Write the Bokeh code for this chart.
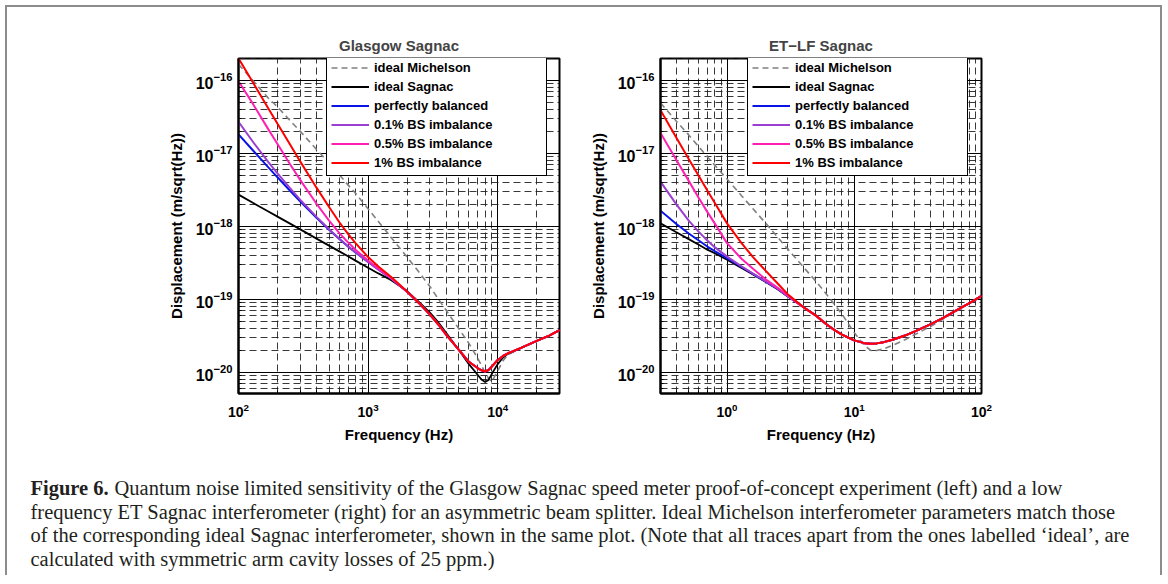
from bokeh.plotting import figure
from bokeh.models import Range1d, FixedTicker, LogTickFormatter, Legend, LegendItem
from bokeh.layouts import column, row
from bokeh.embed import file_html
from bokeh.resources import INLINE
from bokeh.core.properties import value

FONT = "Liberation Sans"
SERIF = "Liberation Serif"

# ---------------- Left panel: Glasgow Sagnac ----------------
gl_title = "Glasgow Sagnac"
gl_freq = [100, 130, 170, 200, 250, 300, 400, 500, 600, 700, 800, 1000, 1200, 1500,
           2000, 2500, 3000, 3500, 4000, 5000, 6000, 7000, 7500, 8000, 8500, 9000,
           10000, 11000, 12000, 15000, 20000, 25000, 30000]
gl_michelson = [1.66e-16, 9.8e-17, 5.7e-17, 4.34e-17, 2.8e-17, 2.0e-17, 1.13e-17, 7.4e-18,
                5.1e-18, 3.7e-18, 2.85e-18, 1.74e-18, 1.17e-18, 7.1e-19, 3.8e-19, 2.3e-19,
                1.5e-19, 1.0e-19, 7.1e-20, 4.0e-20, 2.5e-20, 1.57e-20, 1.25e-20, 1.0e-20,
                8.3e-21, 7.5e-21, 1.05e-20, 1.45e-20, 1.75e-20, 2.15e-20, 2.7e-20, 3.2e-20, 3.8e-20]
gl_sagnac = [2.72e-18, 2.09e-18, 1.6e-18, 1.36e-18, 1.09e-18, 9.1e-19, 6.8e-19, 5.45e-19,
             4.55e-19, 3.9e-19, 3.4e-19, 2.72e-19, 2.27e-19, 1.85e-19, 1.3e-19, 9.0e-20,
             6.6e-20, 4.8e-20, 3.5e-20, 2.05e-20, 1.3e-20, 9.3e-21, 8.0e-21, 7.4e-21,
             7.9e-21, 9.5e-21, 1.3e-20, 1.6e-20, 1.8e-20, 2.15e-20, 2.7e-20, 3.2e-20, 3.8e-20]
gl_balanced = [1.82e-17, 1.085e-17, 6.43e-18, 4.7e-18, 3.08e-18, 2.19e-18, 1.31e-18, 9.0e-19,
               6.7e-19, 5.3e-19, 4.4e-19, 3.25e-19, 2.57e-19, 1.95e-19, 1.27e-19, 8.7e-20,
               6.2e-20, 4.5e-20, 3.3e-20, 2.05e-20, 1.4e-20, 1.15e-20, 1.07e-20, 1.03e-20,
               1.08e-20, 1.2e-20, 1.48e-20, 1.68e-20, 1.83e-20, 2.15e-20, 2.7e-20, 3.2e-20, 3.8e-20]
gl_imb01 = [2.7e-17, 1.42e-17, 7.6e-18, 5.32e-18, 3.34e-18, 2.31e-18, 1.35e-18, 9.14e-19,
            6.77e-19, 5.33e-19, 4.42e-19, 3.26e-19, 2.57e-19, 1.95e-19, 1.27e-19, 8.7e-20,
            6.2e-20, 4.5e-20, 3.3e-20, 2.05e-20, 1.4e-20, 1.15e-20, 1.07e-20, 1.03e-20,
            1.08e-20, 1.2e-20, 1.48e-20, 1.68e-20, 1.83e-20, 2.15e-20, 2.7e-20, 3.2e-20, 3.8e-20]
gl_imb05 = [9.7e-17, 4.68e-17, 2.13e-17, 1.34e-17, 7.1e-18, 4.3e-18, 2.04e-18, 1.2e-18,
            8.1e-19, 6.05e-19, 4.8e-19, 3.4e-19, 2.63e-19, 1.97e-19, 1.27e-19, 8.7e-20,
            6.2e-20, 4.5e-20, 3.3e-20, 2.05e-20, 1.4e-20, 1.15e-20, 1.07e-20, 1.03e-20,
            1.08e-20, 1.2e-20, 1.48e-20, 1.68e-20, 1.83e-20, 2.15e-20, 2.7e-20, 3.2e-20, 3.8e-20]
gl_imb1 = [2.0e-16, 9.17e-17, 4.12e-17, 2.54e-17, 1.32e-17, 7.7e-18, 3.39e-18, 1.84e-18,
           1.14e-18, 7.9e-19, 5.9e-19, 3.8e-19, 2.82e-19, 2.04e-19, 1.28e-19, 8.7e-20,
           6.2e-20, 4.5e-20, 3.3e-20, 2.05e-20, 1.4e-20, 1.15e-20, 1.07e-20, 1.03e-20,
           1.08e-20, 1.2e-20, 1.48e-20, 1.68e-20, 1.83e-20, 2.15e-20, 2.7e-20, 3.2e-20, 3.8e-20]

# ---------------- Right panel: ET-LF Sagnac ----------------
et_title = "ET\u2212LF Sagnac"
et_freq = [0.3, 0.4, 0.5, 0.6, 0.7, 0.8, 1, 1.3, 1.6, 2, 2.5, 3, 3.5, 4, 5, 6, 7, 8, 10,
           12, 13.5, 15, 17, 20, 25, 30, 40, 50, 60, 70, 85, 100]
et_michelson = [4.9e-17, 2.76e-17, 1.78e-17, 1.23e-17, 9.0e-18, 6.9e-18, 4.45e-18, 2.63e-18,
                1.74e-18, 1.12e-18, 7.1e-19, 4.9e-19, 3.6e-19, 2.75e-19, 1.77e-19, 1.2e-19,
                8.5e-20, 6.3e-20, 3.5e-20, 2.35e-20, 2.0e-20, 2.0e-20, 2.1e-20, 2.35e-20,
                2.8e-20, 3.3e-20, 4.3e-20, 5.4e-20, 6.5e-20, 7.7e-20, 9.3e-20, 1.11e-19]
et_sagnac = [1.1e-18, 8.3e-19, 6.7e-19, 5.6e-19, 4.8e-19, 4.3e-19, 3.5e-19, 2.7e-19, 2.2e-19,
             1.75e-19, 1.38e-19, 1.1e-19, 9.2e-20, 7.8e-20, 6.0e-20, 4.6e-20, 3.8e-20, 3.3e-20,
             2.75e-20, 2.52e-20, 2.48e-20, 2.5e-20, 2.6e-20, 2.8e-20, 3.2e-20, 3.65e-20,
             4.6e-20, 5.6e-20, 6.7e-20, 7.8e-20, 9.4e-20, 1.12e-19]
et_balanced = [1.64e-18, 1.08e-18, 8.0e-19, 6.4e-19, 5.3e-19, 4.6e-19, 3.67e-19, 2.78e-19,
               2.24e-19, 1.77e-19, 1.39e-19, 1.11e-19, 9.2e-20, 7.8e-20, 6.0e-20, 4.6e-20,
               3.8e-20, 3.3e-20, 2.75e-20, 2.52e-20, 2.48e-20, 2.5e-20, 2.6e-20, 2.8e-20,
               3.2e-20, 3.65e-20, 4.6e-20, 5.6e-20, 6.7e-20, 7.8e-20, 9.4e-20, 1.12e-19]
et_imb01 = [4.1e-18, 2.0e-18, 1.2e-18, 8.4e-19, 6.4e-19, 5.2e-19, 3.85e-19, 2.84e-19,
            2.26e-19, 1.78e-19, 1.4e-19, 1.11e-19, 9.2e-20, 7.8e-20, 6.0e-20, 4.6e-20,
            3.8e-20, 3.3e-20, 2.75e-20, 2.52e-20, 2.48e-20, 2.5e-20, 2.6e-20, 2.8e-20,
            3.2e-20, 3.65e-20, 4.6e-20, 5.6e-20, 6.7e-20, 7.8e-20, 9.4e-20, 1.12e-19]
et_imb05 = [1.9e-17, 8.1e-18, 4.2e-18, 2.45e-18, 1.58e-18, 1.1e-18, 5.9e-19, 3.6e-19,
            2.63e-19, 1.9e-19, 1.44e-19, 1.13e-19, 9.2e-20, 7.8e-20, 6.0e-20, 4.6e-20,
            3.8e-20, 3.3e-20, 2.75e-20, 2.52e-20, 2.48e-20, 2.5e-20, 2.6e-20, 2.8e-20,
            3.2e-20, 3.65e-20, 4.6e-20, 5.6e-20, 6.7e-20, 7.8e-20, 9.4e-20, 1.12e-19]
et_imb1 = [3.9e-17, 1.64e-17, 8.4e-18, 4.9e-18, 3.1e-18, 2.1e-18, 1.1e-18, 5.9e-19, 3.8e-19,
           2.5e-19, 1.65e-19, 1.18e-19, 9.4e-20, 7.8e-20, 6.0e-20, 4.6e-20, 3.8e-20, 3.3e-20,
           2.75e-20, 2.52e-20, 2.48e-20, 2.5e-20, 2.6e-20, 2.8e-20, 3.2e-20, 3.65e-20,
           4.6e-20, 5.6e-20, 6.7e-20, 7.8e-20, 9.4e-20, 1.12e-19]

labels = ["ideal Michelson", "ideal Sagnac", "perfectly balanced",
          "0.1% BS imbalance", "0.5% BS imbalance", "1% BS imbalance"]
colors = ["#808080", "#000000", "#0a14e6", "#9a3fd0", "#ff1fb0", "#ff0000"]
widths = [1.6, 1.8, 2, 2, 2, 2]
dashes = ["6 4", "solid", "solid", "solid", "solid", "solid"]

x_label = "Frequency (Hz)"
y_label = "Displacement (m/sqrt(Hz))"

caption_bold = "Figure 6."
caption_lines = [
    "Quantum noise limited sensitivity of the Glasgow Sagnac speed meter proof-of-concept experiment (left) and a low",
    "frequency ET Sagnac interferometer (right) for an asymmetric beam splitter. Ideal Michelson interferometer parameters match those",
    "of the corresponding ideal Sagnac interferometer, shown in the same plot. (Note that all traces apart from the ones labelled \u2018ideal\u2019, are",
    "calculated with symmetric arm cavity losses of 25 ppm.)",
]


def decades(lo, hi):
    major = [10.0 ** k for k in range(lo, hi + 1)]
    minor = [m * 10.0 ** k for k in range(lo, hi + 1) for m in range(2, 10)]
    return FixedTicker(ticks=major, minor_ticks=minor)


def make_plot(title, width, bl, br, xr, xdec, freq, series, legend_x):
    p = figure(width=width, height=443, x_axis_type="log", y_axis_type="log",
               x_range=Range1d(*xr), y_range=Range1d(5.15e-21, 1.99e-16),
               output_backend="svg", toolbar_location=None,
               min_border_left=bl, min_border_right=br,
               min_border_top=51, min_border_bottom=57, title=title)
    p.title.text_font = FONT
    p.title.text_font_size = "15px"
    p.title.text_font_style = "bold"
    p.title.align = "center"
    p.title.standoff = 10
    p.background_fill_color = "white"
    p.border_fill_color = "white"
    p.outline_line_color = "black"
    p.outline_line_width = 2
    p.outline_line_alpha = 1

    p.xaxis.ticker = decades(*xdec)
    p.yaxis.ticker = decades(-21, -16)
    for ax in (p.xaxis[0], p.yaxis[0]):
        ax.formatter = LogTickFormatter()
        ax.axis_line_color = "black"
        ax.axis_line_width = 2
        ax.major_tick_in = 5
        ax.major_tick_out = 0
        ax.minor_tick_in = 3
        ax.minor_tick_out = 0
        ax.major_tick_line_color = "black"
        ax.minor_tick_line_color = "black"
        ax.major_label_text_font = FONT
        ax.major_label_text_font_style = "bold"
        ax.major_label_text_color = "black"
        ax.axis_label_text_font = FONT
        ax.axis_label_text_font_style = "bold"
        ax.axis_label_text_font_size = "15px"
        ax.axis_label_text_color = "black"
    p.xaxis.major_label_text_font_size = "14px"
    p.yaxis.major_label_text_font_size = "16px"
    p.xaxis.axis_label = x_label
    p.yaxis.axis_label = y_label
    p.xaxis.major_label_standoff = 9
    p.xaxis.axis_label_standoff = 6
    p.yaxis.major_label_standoff = 6
    p.yaxis.axis_label_standoff = 8

    for g in (p.xgrid[0], p.ygrid[0]):
        g.grid_line_color = "black"
        g.grid_line_alpha = 1
        g.grid_line_width = 1
        g.minor_grid_line_color = "#222222"
        g.minor_grid_line_alpha = 0.9
        g.minor_grid_line_width = 1
        g.minor_grid_line_dash = "7 4"

    items = []
    for lab, ys, c, w, d in zip(labels, series, colors, widths, dashes):
        r = p.line(freq, ys, line_color=c, line_width=w, line_dash=d)
        items.append(LegendItem(label=lab, renderers=[r]))

    leg = Legend(items=items, location=(legend_x, 217))
    leg.border_line_color = "black"
    leg.border_line_width = 1
    leg.border_line_alpha = 1
    leg.background_fill_color = "white"
    leg.background_fill_alpha = 1
    leg.label_text_font = FONT
    leg.label_text_font_style = "bold"
    leg.label_text_font_size = "13px"
    leg.label_text_color = "black"
    leg.glyph_width = 38
    leg.glyph_height = 17
    leg.label_height = 17
    leg.label_width = 168
    leg.label_standoff = 5
    leg.spacing = 2
    leg.padding = 4
    leg.margin = 0
    p.add_layout(leg)
    return p


pL = make_plot(gl_title, 573, 231, 21, (100, 30000), (2, 5), gl_freq,
               [gl_michelson, gl_sagnac, gl_balanced, gl_imb01, gl_imb05, gl_imb1], 88)
pR = make_plot(et_title, 580, 80, 179, (0.3, 100), (-1, 2), et_freq,
               [et_michelson, et_sagnac, et_balanced, et_imb01, et_imb05, et_imb1], 87)

cap = figure(width=1153, height=125, x_range=Range1d(0, 1153), y_range=Range1d(125, 0),
             output_backend="svg", toolbar_location=None, min_border=0,
             x_axis_type=None, y_axis_type=None)
cap.outline_line_color = None
cap.background_fill_color = "white"
cap.border_fill_color = "white"
cap_y = [37.5, 61, 84.5, 108]
cap_x = [107, 23, 23, 23]
cap.text(x=[23], y=[cap_y[0]], text=[caption_bold], text_font=value(SERIF),
         text_font_style="bold", text_font_size="20.5px", text_baseline="middle",
         text_align="left", text_color="#231f20")
cap.text(x=cap_x, y=cap_y, text=caption_lines, text_font=value(SERIF),
         text_font_size="20.5px", text_baseline="middle", text_align="left",
         text_color="#231f20")

layout = column(row(pL, pR), cap,
                styles={"border-top": "2px solid #8c8c8c", "border-left": "2px solid #8c8c8c",
                        "border-right": "2px solid #8c8c8c", "margin-left": "5px",
                        "margin-top": "5px"})

open("out.html", "w").write(file_html(layout, INLINE))
